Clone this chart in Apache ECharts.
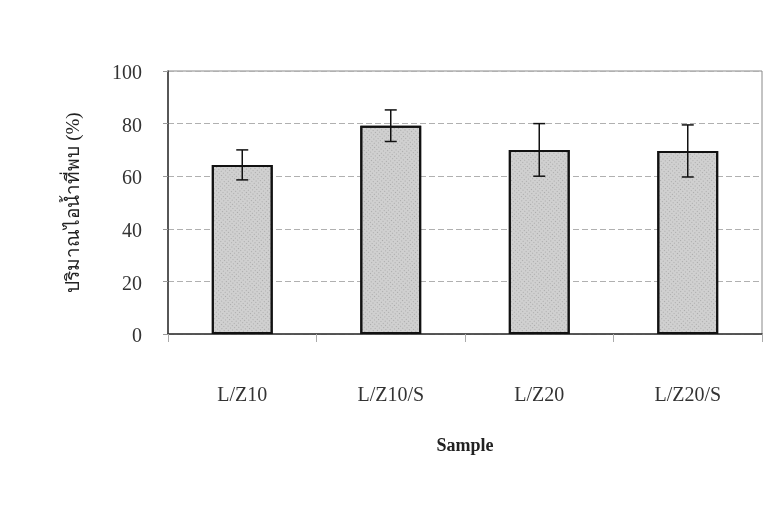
<!DOCTYPE html>
<html>
<head>
<meta charset="utf-8">
<script src="https://cdn.jsdelivr.net/npm/echarts@6/dist/echarts.min.js"></script>
<style>html,body{margin:0;padding:0;background:#fff;}#c{width:779px;height:522px;}</style>
</head>
<body>
<div id="c"></div>
<script>
var categories = ['L/Z10', 'L/Z10/S', 'L/Z20', 'L/Z20/S'];
var values = [64.3, 79.2, 70.0, 69.6];
var errors = [5.7, 6.0, 10.0, 9.9];
var yTicks = [0, 20, 40, 60, 80, 100];

var chart = echarts.init(document.getElementById('c'), null, {renderer: 'canvas'});
var serif = '"Liberation Serif", "Times New Roman", serif';
var errData = values.map(function (v, i) { return [i, v - errors[i], v + errors[i]]; });

chart.setOption({
  animation: false,
  backgroundColor: '#ffffff',
  grid: {left: 168, right: 17, top: 71, bottom: 188, show: true, borderColor: '#888', borderWidth: 1, backgroundColor: 'transparent'},
  xAxis: {
    type: 'category',
    data: categories,
    name: 'Sample',
    nameLocation: 'middle',
    nameGap: 103,
    nameTextStyle: {fontFamily: serif, fontSize: 18, fontWeight: 'bold', color: '#222'},
    axisLine: {lineStyle: {color: '#333', width: 1.5}},
    axisTick: {show: true, alignWithLabel: false, length: 8, lineStyle: {color: '#aaa'}},
    axisLabel: {margin: 52, fontFamily: serif, fontSize: 20, color: '#333'},
    splitLine: {show: false}
  },
  yAxis: {
    type: 'value',
    min: yTicks[0],
    max: yTicks[yTicks.length - 1],
    interval: 20,
    name: 'ปริมาณไอน้ำที่พบ (%)',
    nameLocation: 'middle',
    nameGap: 84,
    nameRotate: 90,
    nameTextStyle: {fontFamily: serif, fontSize: 19, color: '#222'},
    axisLine: {show: true, lineStyle: {color: '#333', width: 1.5}},
    axisTick: {show: true, inside: false, length: 5, lineStyle: {color: '#999'}},
    axisLabel: {margin: 26, fontFamily: serif, fontSize: 20, color: '#333', verticalAlign: 'top', lineHeight: 20, padding: [-7, 0, 0, 0]},
    splitLine: {show: true, lineStyle: {color: '#b0b0b0', type: [6, 3], width: 1}}
  },
  series: [
    {
      type: 'bar',
      data: values,
      barWidth: '41%',
      itemStyle: {
        color: '#d0d0d0',
        borderColor: '#111',
        borderWidth: 2,
        decal: {symbol: 'rect', symbolSize: 1, color: 'rgba(80,80,80,0.3)', dashArrayX: [1, 2], dashArrayY: [1, 2], rotation: 0.7}
      },
      z: 2
    },
    {
      type: 'custom',
      data: errData,
      z: 3,
      renderItem: function (params, api) {
        var x = api.value(0);
        var lo = api.coord([x, api.value(1)]);
        var hi = api.coord([x, api.value(2)]);
        var hw = 6;
        var st = {stroke: '#111', lineWidth: 1.5};
        return {
          type: 'group',
          children: [
            {type: 'line', shape: {x1: lo[0], y1: lo[1], x2: hi[0], y2: hi[1]}, style: st},
            {type: 'line', shape: {x1: lo[0] - hw, y1: lo[1], x2: lo[0] + hw, y2: lo[1]}, style: st},
            {type: 'line', shape: {x1: hi[0] - hw, y1: hi[1], x2: hi[0] + hw, y2: hi[1]}, style: st}
          ]
        };
      }
    }
  ]
});
</script>
</body>
</html>
